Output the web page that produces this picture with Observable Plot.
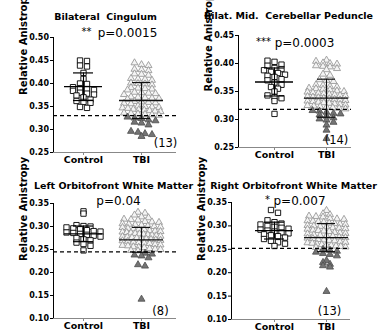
<!DOCTYPE html>
<html><head><meta charset="utf-8">
<script src="https://cdn.jsdelivr.net/npm/d3@7"></script>
<script src="https://cdn.jsdelivr.net/npm/@observablehq/plot@0.6"></script>
<style>
html,body{margin:0;padding:0;background:#fff;}
#wrap{position:relative;width:378px;height:336px;overflow:hidden;}
.panel{position:absolute;width:189px;height:168px;}
.panel svg{overflow:visible;}
</style></head><body><div id="wrap"></div>
<script>
// ---------- data ----------
const groups = ["Control", "TBI"];
const titles = ["Bilateral  Cingulum", "Bilat. Mid.  Cerebellar Peduncle", "Left Orbitofront White Matter", "Right Orbitofront White Matter"];
const starLabels = ["**", "***", "", "*"];
const pLabels = ["p=0.0015", "p=0.0003", "p=0.04", "p=0.007"];
const countLabels = ["(13)", "(14)", "(8)", "(13)"];
const yLabel = "Relative Anistropy";
const yDomains = [[0.25, 0.50], [0.25, 0.45], [0.10, 0.35], [0.10, 0.35]];
const yTickCounts = [5, 4, 5, 5];
const thresholds = [0.330, 0.318, 0.245, 0.252];
const controlMean = [0.393, 0.367, 0.284, 0.290];
const controlSD = [0.030, 0.025, 0.017, 0.018];
const tbiMean = [0.363, 0.338, 0.271, 0.275];
const tbiSD = [0.039, 0.034, 0.027, 0.030];

const control1 = [0.450, 0.449, 0.439, 0.437, 0.423, 0.410, 0.400, 0.399, 0.392, 0.390, 0.388, 0.386, 0.384, 0.380, 0.378, 0.376, 0.374, 0.370, 0.365, 0.362, 0.360, 0.358, 0.349, 0.347];
const tbi1 = [0.445, 0.441, 0.439, 0.431, 0.430, 0.428, 0.421, 0.420, 0.418, 0.411, 0.410, 0.409, 0.407, 0.401, 0.400, 0.399, 0.397, 0.391, 0.390, 0.389, 0.388, 0.386, 0.381, 0.380, 0.379, 0.378, 0.376, 0.371, 0.370, 0.369, 0.368, 0.367, 0.366, 0.361, 0.360, 0.359, 0.358, 0.357, 0.356, 0.351, 0.350, 0.349, 0.348, 0.347, 0.346, 0.344, 0.343, 0.342, 0.341, 0.340, 0.339, 0.336, 0.335, 0.334, 0.333, 0.332, 0.331,
  0.327, 0.325, 0.324, 0.321, 0.319, 0.316, 0.314, 0.310, 0.296, 0.294, 0.291, 0.289, 0.285];
const control2 = [0.405, 0.403, 0.398, 0.396, 0.392, 0.390, 0.388, 0.385, 0.383, 0.380, 0.378, 0.376, 0.372, 0.370, 0.366, 0.362, 0.358, 0.355, 0.350, 0.343, 0.340, 0.338, 0.333, 0.310];
const tbi2 = [0.406, 0.404, 0.401, 0.400, 0.399, 0.396, 0.395, 0.394, 0.391, 0.389, 0.381, 0.379, 0.371, 0.370, 0.368, 0.362, 0.361, 0.359, 0.358, 0.356, 0.355, 0.354, 0.353, 0.351, 0.350, 0.349, 0.348, 0.347, 0.346, 0.345, 0.344, 0.343, 0.342, 0.341, 0.340, 0.339, 0.338, 0.337, 0.336, 0.335, 0.334, 0.333, 0.332, 0.331, 0.330, 0.329, 0.328, 0.327, 0.326, 0.325, 0.324, 0.323, 0.322, 0.321, 0.320, 0.319,
  0.316, 0.315, 0.313, 0.311, 0.310, 0.308, 0.306, 0.303, 0.301, 0.299, 0.295, 0.290, 0.281, 0.266];
const control3 = [0.333, 0.328, 0.303, 0.301, 0.300, 0.298, 0.296, 0.294, 0.292, 0.290, 0.289, 0.287, 0.286, 0.284, 0.282, 0.280, 0.278, 0.275, 0.272, 0.270, 0.265, 0.262, 0.258, 0.248];
const tbi3 = [0.331, 0.329, 0.325, 0.321, 0.319, 0.316, 0.315, 0.314, 0.311, 0.310, 0.309, 0.306, 0.305, 0.304, 0.303, 0.301, 0.300, 0.299, 0.298, 0.296, 0.295, 0.294, 0.293, 0.291, 0.290, 0.289, 0.288, 0.287, 0.286, 0.285, 0.284, 0.283, 0.282, 0.281, 0.280, 0.279, 0.278, 0.277, 0.276, 0.275, 0.274, 0.273, 0.272, 0.271, 0.270, 0.269, 0.268, 0.266, 0.265, 0.264, 0.263, 0.261, 0.260, 0.259, 0.258, 0.256, 0.255, 0.254, 0.252, 0.251, 0.250, 0.248, 0.247,
  0.242, 0.240, 0.238, 0.236, 0.232, 0.217, 0.214, 0.142];
const control4 = [0.334, 0.328, 0.312, 0.308, 0.305, 0.303, 0.300, 0.298, 0.296, 0.294, 0.292, 0.290, 0.288, 0.286, 0.284, 0.282, 0.280, 0.278, 0.275, 0.272, 0.268, 0.265, 0.262, 0.257];
const tbi4 = [0.333, 0.326, 0.324, 0.321, 0.320, 0.319, 0.316, 0.315, 0.314, 0.311, 0.310, 0.309, 0.308, 0.306, 0.305, 0.304, 0.303, 0.301, 0.300, 0.299, 0.298, 0.296, 0.295, 0.294, 0.293, 0.291, 0.290, 0.289, 0.288, 0.286, 0.285, 0.284, 0.283, 0.281, 0.280, 0.279, 0.278, 0.276, 0.275, 0.274, 0.273, 0.271, 0.270, 0.269, 0.268, 0.266, 0.265, 0.264, 0.263, 0.261, 0.260, 0.259, 0.258, 0.257, 0.256, 0.255, 0.254,
  0.250, 0.248, 0.246, 0.244, 0.241, 0.239, 0.236, 0.226, 0.222, 0.218, 0.215, 0.212, 0.160];
const controls = [control1, control2, control3, control4];
const tbis = [tbi1, tbi2, tbi3, tbi4];

// ---------- layout (pixels inside each 189x168 panel) ----------
const W = 189, H = 168;
const layouts = [
  {ml: 53, mt: 37, mb: 16, c0: 83, c1: 141, right: 176, title: [105, 16], p: [127, 33], star: [86, 31], count: [165, 143]},
  {ml: 49, mt: 35, mb: 21, c0: 85, c1: 137, right: 162, title: [99, 15], p: [115, 43], star: [74, 41], count: [147, 140]},
  {ml: 53, mt: 35, mb: 18, c0: 83, c1: 141, right: 176, title: [113, 17], p: [118, 33], star: [0, 0], count: [160, 143]},
  {ml: 42, mt: 34, mb: 17, c0: 85, c1: 137, right: 161, title: [104, 17], p: [110, 33], star: [78, 31], count: [140, 143]}
];
const FONT = "DejaVu Sans";
const CTRL_HALF = 19, TBI_HALF = 22;   // half-width of mean lines, px

// Prism-like column scatter: points are binned into rows and spread evenly in each row
function rowSpread(values, pxPerY, binH, spacing, maxHalf) {
  const bins = d3.group(values.map((v, i) => i), i => Math.round(values[i] * pxPerY / binH));
  const out = new Array(values.length);
  for (const [, idx] of bins) {
    const n = idx.length;
    const sp = n > 1 ? Math.min(spacing, 2 * maxHalf / (n - 1)) : 0;
    idx.forEach((i, j) => { out[i] = (j - (n - 1) / 2) * sp; });
  }
  return out;
}

const wrap = document.getElementById("wrap");
for (let k = 0; k < 4; k++) {
  const L = layouts[k];
  const [y0, y1] = yDomains[k];
  const unit = L.c1 - L.c0;
  const xmin = (L.ml - L.c0) / unit, xmax = 1 + (L.right - L.c1) / unit;
  const pxY = (H - L.mt - L.mb) / (y1 - y0);
  const offC = rowSpread(controls[k], pxY, 5, 7, 17);
  const offT = rowSpread(tbis[k], pxY, 4.5, 7, 19);
  const ctrlPts = controls[k].map((v, i) => ({x: offC[i] / unit, v}));
  const tbiPts = tbis[k].map((v, i) => ({x: 1 + offT[i] / unit, v, low: v <= thresholds[k]}));
  const stats = [
    {g: 0, m: controlMean[k], s: controlSD[k], hw: CTRL_HALF, sw: 10, c: "#000"},
    {g: 1, m: tbiMean[k], s: tbiSD[k], hw: TBI_HALF, sw: 9, c: "#111"}
  ];
  const sdEnds = stats.flatMap(d => [{...d, y: d.m + d.s}, {...d, y: d.m - d.s}]);
  const at = (pt, extra) => ({frameAnchor: "top-left", dx: pt[0] - L.ml, dy: pt[1] - L.mt, textAnchor: "middle", lineAnchor: "middle", fill: "#000", text: d => d, ...extra});

  const chart = Plot.plot({
    width: W, height: H,
    marginLeft: L.ml, marginRight: W - L.right, marginTop: L.mt, marginBottom: L.mb,
    style: {fontFamily: FONT, fontSize: "8px", fontWeight: "bold", background: "transparent", color: "#000", overflow: "visible"},
    x: {domain: [xmin, xmax], axis: null},
    y: {domain: [y0, y1], ticks: yTickCounts[k], tickFormat: d3.format(".2f"), tickSize: 3, tickPadding: 1.5, line: true, label: null},
    marks: [
      Plot.ruleY([y0], {y: d => d, stroke: "#888", strokeWidth: 1}),
      Plot.ruleX([0, 1], {x: d => d, y1: () => y0, y2: () => y0, insetTop: 0, insetBottom: -3, stroke: "#888"}),
      Plot.dot(ctrlPts, {x: "x", y: "v", symbol: "square", r: 3.0, stroke: "#000", fill: "#fff", strokeWidth: 0.9}),
      Plot.dot(tbiPts.filter(d => !d.low), {x: "x", y: "v", symbol: "triangle", r: 2.6, stroke: "#9a9a9a", fill: "#f4f4f4", strokeWidth: 0.9}),
      Plot.dot(tbiPts.filter(d => d.low), {x: "x", y: "v", symbol: "triangle", r: 2.6, stroke: "#4d4d4d", fill: "#747474", strokeWidth: 0.8}),
      Plot.ruleY(stats, {y: "m", x1: d => d.g - d.hw / unit, x2: d => d.g + d.hw / unit, stroke: "c", strokeWidth: 1.3}),
      Plot.ruleY(sdEnds, {y: "y", x1: d => d.g - d.sw / unit, x2: d => d.g + d.sw / unit, stroke: "c", strokeWidth: 1.2}),
      Plot.ruleX(stats, {x: "g", y1: d => d.m - d.s, y2: d => d.m + d.s, stroke: "c", strokeWidth: 1.1}),
      Plot.ruleY([thresholds[k]], {y: d => d, stroke: "#000", strokeWidth: 1.3, strokeDasharray: "4,3"}),
      Plot.text(groups, {x: (d, i) => i, text: d => d, frameAnchor: "bottom", dy: 10, fontSize: 9.5, fontWeight: "bold", fill: "#000"}),
      Plot.text([yLabel], {text: d => d, frameAnchor: "left", dx: -30, rotate: -90, fontSize: 10, fontWeight: "bold", fill: "#000"}),
      Plot.text([titles[k]], at(L.title, {fontSize: 9.5, fontWeight: "bold"})),
      Plot.text([starLabels[k]].filter(s => s), at(L.star, {fontSize: 10, fontWeight: "normal"})),
      Plot.text([pLabels[k]], at(L.p, {fontSize: 12, fontWeight: "normal"})),
      Plot.text([countLabels[k]], at(L.count, {fontSize: 11.5, fontWeight: "normal"}))
    ]
  });
  const div = document.createElement("div");
  div.className = "panel";
  div.style.left = (k % 2) * W + "px";
  div.style.top = Math.floor(k / 2) * H + "px";
  div.appendChild(chart);
  wrap.appendChild(div);
}
</script></body></html>
